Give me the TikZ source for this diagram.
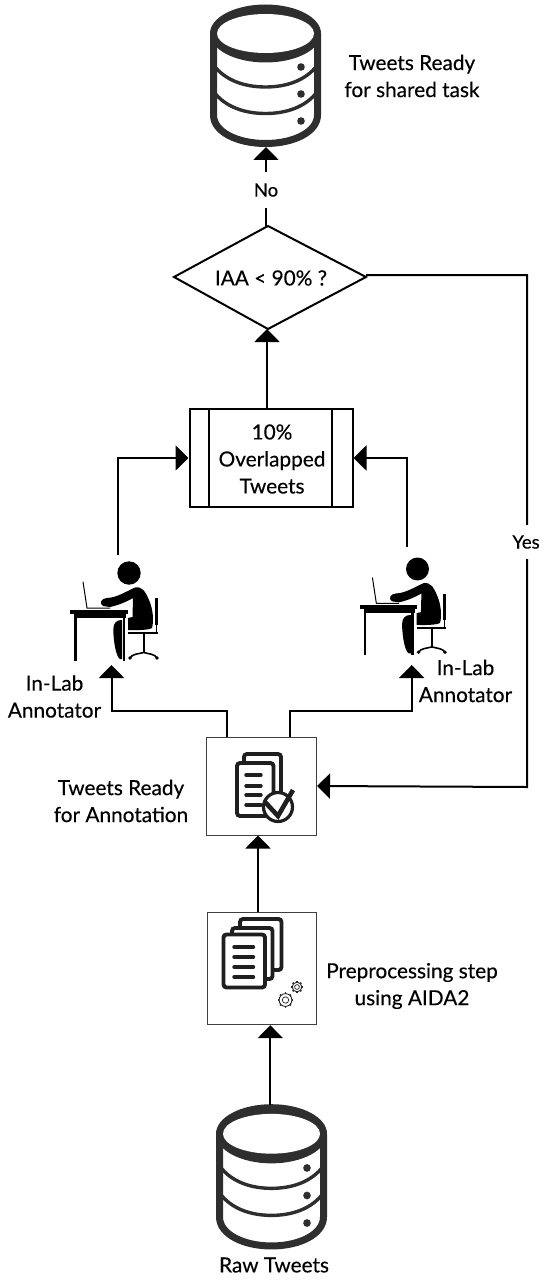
\documentclass[tikz,border=0pt]{standalone}
\usepackage{fontspec}
\setmainfont{Lato}
\usetikzlibrary{arrows.meta}
\newcommand{\txtfont}{\fontsize{20.8}{27}\selectfont\addfontfeature{FakeBold=0.3}}
\tikzset{
  x=1pt,y=-1pt,
  lbl/.style={font=\txtfont,align=center,text=black,inner sep=0pt},
  conn/.style={draw=black,line width=2pt,-{Triangle[length=13pt,width=25pt]}},
  framebox/.style={draw=black!75,line width=1pt,fill=white,inner sep=0pt},
  pics/dbicon/.style={code={
    \begin{scope}[line width=7pt,draw=black!82]
      \draw (-52,-36) -- (-52,45) .. controls (-52,62) and (-28,73.5) .. (0,73.5) .. controls (28,73.5) and (52,62) .. (52,45) -- (52,-36);
    \end{scope}
    \begin{scope}[line width=3.4pt,draw=black!82]
      \draw (-52,-5) .. controls (-40,11) and (-20,17) .. (0,17) .. controls (20,17) and (40,11) .. (52,-5);
      \draw (-52,21.5) .. controls (-40,37.5) and (-20,43.5) .. (0,43.5) .. controls (20,43.5) and (40,37.5) .. (52,21.5);
    \end{scope}
    \fill[black!82] (0,-36.5) ellipse [x radius=55.5pt,y radius=29pt];
    \fill[white] (0,-36.5) ellipse [x radius=48.5pt,y radius=19.5pt];
    \fill[black!82] (35.5,-3) circle (3.8pt) (35.5,24) circle (3.8pt) (35.5,51) circle (3.8pt);
  }},
  pics/worker/.style={code={
    % origin = head centre
    \fill (0,0) circle (11.7pt);
    % table
    \fill (-59,37) rectangle (-1,41);
    \fill (-55,41) rectangle (-3,45);
    \fill (-55,45) rectangle (-52.4,88);
    \fill (-6.3,45) rectangle (-3.7,88);
    % laptop
    \draw[line width=1pt] (-46,8.7) -- (-42,35) -- (-19,35);
    % arm and torso
    \fill (-26,33) .. controls (-30,31) and (-28,25) .. (-22,25)
      .. controls (-12,24.5) and (-4,19) .. (6,14.5)
      .. controls (14,13) and (17,20) .. (20,27) .. controls (24,36) and (25,48) .. (23,55)
      .. controls (20,57) and (8,57.5) .. (-1,57) -- (-1,45) -- (3.5,44)
      -- (4,25) .. controls (-3,29) and (-10,32) .. (-19,34) -- cycle;
    % leg
    \fill (-8,47) -- (-6.8,47) -- (-6.8,86) -- (-9,86) .. controls (-13,84) and (-15.7,68) .. (-15.7,56) .. controls (-15.7,50) and (-12,47) .. (-8,47) -- cycle;
    % chair
    \fill (-0.7,58.7) rectangle (29.3,61);
    \fill (26,25) rectangle (29.3,52);
    \fill (26.8,52) rectangle (28.2,59);
    \fill (13.7,61) rectangle (15.7,80);
    \draw[line width=1.6pt] (1,85) .. controls (3,81) and (9,81) .. (14.7,79.5) .. controls (20,81) and (26,81) .. (28,85);
    \fill (1,85) circle (1.9pt) (28,85) circle (1.9pt);
  }},
}
\newcommand{\sheet}[4]{% x1 y1 x2 y2
  \draw[line width=3.9pt,draw=black!88,fill=white,rounded corners=3pt] (#1,#2) rectangle (#3,#4);}
\begin{document}
\begin{tikzpicture}
\useasboundingbox (0,0) rectangle (546,1284);
\fill[white] (0,0) rectangle (546,1284);

% databases
\pic at (265.5,70) {dbicon};
\pic[yscale=1.02] at (271.5,1171) {dbicon};
\node[lbl] (dbtop) at (412,76) {Tweets Ready\\for shared task};
\coordinate (dbtopbase) at (265.5,147);
\coordinate (dbbotbase) at (270.3,1105);
\node[lbl] (raw) at (274,1265) {Raw Tweets};

% decision
\draw[draw=black,line width=2pt,fill=white] (268,226) -- (366,277) -- (268,329) -- (174,277) -- cycle;
\coordinate (dtop) at (266,227);
\coordinate (dbot) at (267,329);
\coordinate (dright) at (366,275);
\node[lbl] (iaa) at (271,278) {IAA < 90\% ?};

% overlapped
\node[draw=black,line width=2pt,fill=white,minimum width=163pt,minimum height=98pt,inner sep=0pt] (ovl) at (271,458) {};
\draw[line width=2pt] (209,409) -- (209,507) (332,409) -- (332,507);
\node[lbl] (ovltext) at (272,459) {10\%\\Overlapped\\Tweets};

% annotators
\pic at (129,573) {worker};
\pic[scale=.98] at (417.5,569) {worker};
\node[lbl] (a1) at (54.5,696.5) {In-Lab\\Annotator};
\node[lbl] (a2) at (465.5,681) {In-Lab\\Annotator};
\coordinate (w1) at (118,555);
\coordinate (w2) at (407,547);
\coordinate (w1in) at (111.5,665);
\coordinate (w2in) at (411.7,665);

% ready box
\node[framebox,minimum width=110pt,minimum height=98pt] (ready) at (261.5,786) {};
\node[lbl] (readytext) at (121,801) {Tweets Ready\\for Annotation};
\sheet{244}{754}{281}{810}
\sheet{237}{763}{273.5}{816}
\foreach \yy in {775,786,795,805} \draw[line width=3.4pt,line cap=round,draw=black!88] (246,\yy) -- (261,\yy);
\draw[line width=3.2pt,draw=black!88,fill=white] (278,807) circle (14.5pt);
\draw[line width=4.6pt,draw=black!88] (265,802) -- (278,816) -- (293,790);

% preprocessing box
\node[framebox,minimum width=108.5pt,minimum height=112pt] (pre) at (262,968.7) {};
\node[lbl] (pretext) at (412,986) {Preprocessing step\\using AIDA2};
\sheet{240}{919}{281.5}{970}
\sheet{232}{928}{272.5}{979}
\sheet{223.5}{934.5}{265}{987.5}
\foreach \yy in {947,957,967,977} \draw[line width=3.4pt,line cap=round,draw=black!88] (234,\yy) -- (253.5,\yy);
\foreach \cx/\cy/\ro/\ri in {297/987/4.8/2.4, 285.5/1000/6.4/3.2} {
  \draw[line width=.9pt,draw=black!85,fill=white] (\cx,\cy) circle (\ro pt);
  \draw[line width=.7pt,draw=black!85] (\cx,\cy) circle (\ri pt);
  \foreach \an in {0,45,...,315} \draw[line width=1.7pt,draw=black!85] (\cx,\cy) ++(\an:\ro pt) -- ++(\an:1.3pt);
}

% connectors
\draw[conn] (dtop) -- (dtop|-dbtopbase);
\node[lbl,font=\fontsize{18.5}{22}\selectfont\addfontfeature{FakeBold=0.3},fill=white,minimum width=30pt,minimum height=35pt] (no) at (266,190) {No};
\draw[conn] (ovl.north-|dbot) -- (dbot);
\draw[conn] (w1) |- (ovl.west);
\draw[conn] (w2) |- (ovl.east);
\coordinate (r1) at (227,737);
\coordinate (r2) at (290,737);
\draw[conn] (r1) |- (111.5,711) -- (w1in);
\draw[conn] (r2) |- (411.7,711) -- (w2in);
\draw[conn] (dright) -| (527,787) -- (ready.east);
\node[lbl,font=\fontsize{18.5}{22}\selectfont\addfontfeature{FakeBold=0.3},fill=white,minimum width=32pt,minimum height=34pt] (yes) at (526,542) {Yes};
\draw[conn] (pre.north-|258,0) -- (ready.south-|258,0);
\draw[conn] (dbbotbase) -- (pre.south-|dbbotbase);
\end{tikzpicture}
\end{document}
